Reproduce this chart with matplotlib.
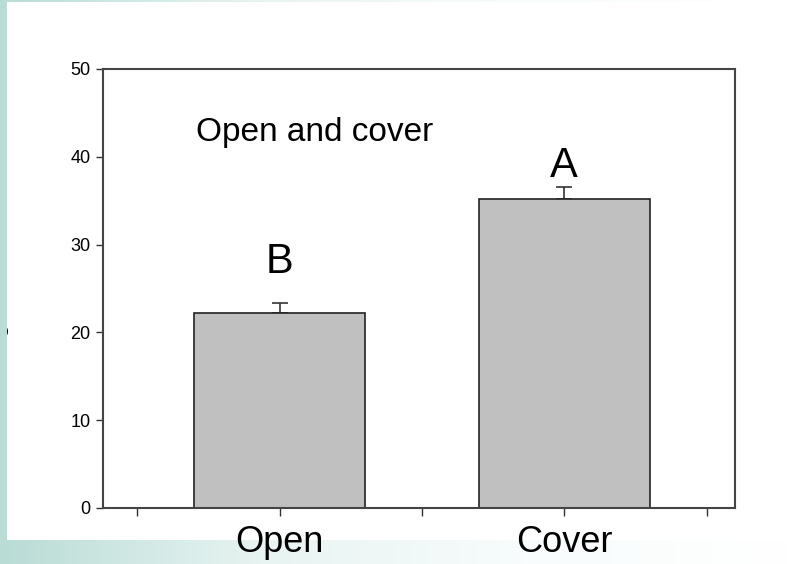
import matplotlib
matplotlib.use("Agg")
import matplotlib.pyplot as plt
import numpy as np
from matplotlib.colors import LinearSegmentedColormap

# data
categories = ["Open", "Cover"]
means = [22.2, 35.2]
errors = [1.1, 1.4]
letters = ["B", "A"]
letter_y = [28.0, 39.0]
yticks = [0, 10, 20, 30, 40, 50]

W, H = 789, 564
fig = plt.figure(figsize=(W / 100, H / 100), dpi=100)
fig.patch.set_facecolor("white")

# slide background: teal bands fading to white
teal = LinearSegmentedColormap.from_list("teal", ["#b9dcd5", "#e8f4f2", "#f8fcfc", "#ffffff"])
grad = np.linspace(0, 1, 256).reshape(1, -1)
bg = fig.add_axes([0, 0, 1, 1], zorder=0)
bg.set_xlim(0, W)
bg.set_ylim(H, 0)
bg.axis("off")
bg.imshow(grad, cmap=teal, extent=[0, W, H, 540], aspect="auto")
bg.imshow(grad, cmap=teal, extent=[0, W, 2, 0], aspect="auto")

# cut-off axis label fragment on the left edge, hidden partly by the strip
fig.text(13 / W, 1 - 330 / H, "s", rotation=90, ha="right", va="center",
         fontsize=16, family="Liberation Sans", zorder=0.5)
strip = fig.add_axes([0, 0, 7 / W, 1], zorder=3)
strip.set_facecolor("#b9dcd5")
strip.set_xticks([])
strip.set_yticks([])
for s in strip.spines.values():
    s.set_visible(False)

ax = fig.add_axes([103 / W, 56 / H, 632 / W, 439 / H], zorder=1)
x = np.arange(1, len(categories) + 1)
ax.bar(x, means, width=0.6, color="#c0c0c0", edgecolor="#222222", linewidth=1.2, zorder=2)
# only the upper half of the error bar shows above the bar
half = [e / 2 for e in errors]
ax.errorbar(x, [m + h for m, h in zip(means, half)], yerr=[half, half],
            fmt="none", ecolor="#333333", elinewidth=1.2, capsize=6, capthick=1.2, zorder=1)
ax.set_xlim(0.38, 2.6)
ax.set_ylim(0, 50)
ax.set_yticks(yticks)
ax.set_xticks(x)
ax.set_xticklabels(categories, fontsize=26, family="Liberation Sans")
ax.set_xticks([0.5, 1.5, 2.5], minor=True)
ax.tick_params(axis="x", which="both", direction="out", length=6, width=1, color="#333333", pad=6)
ax.tick_params(axis="y", direction="out", length=5, width=1, color="#333333", pad=4, labelsize=13)
for lab in ax.get_yticklabels():
    lab.set_family("Liberation Sans")
for s in ax.spines.values():
    s.set_color("#444444")
    s.set_linewidth(1.5)

for xi, ly, l in zip(x, letter_y, letters):
    ax.text(xi, ly, l, ha="center", va="center", fontsize=30, family="Liberation Sans")
ax.text(0.705, 42.8, "Open and cover", ha="left", va="center", fontsize=24, family="Liberation Sans")

fig.savefig("out.png", dpi=100)
